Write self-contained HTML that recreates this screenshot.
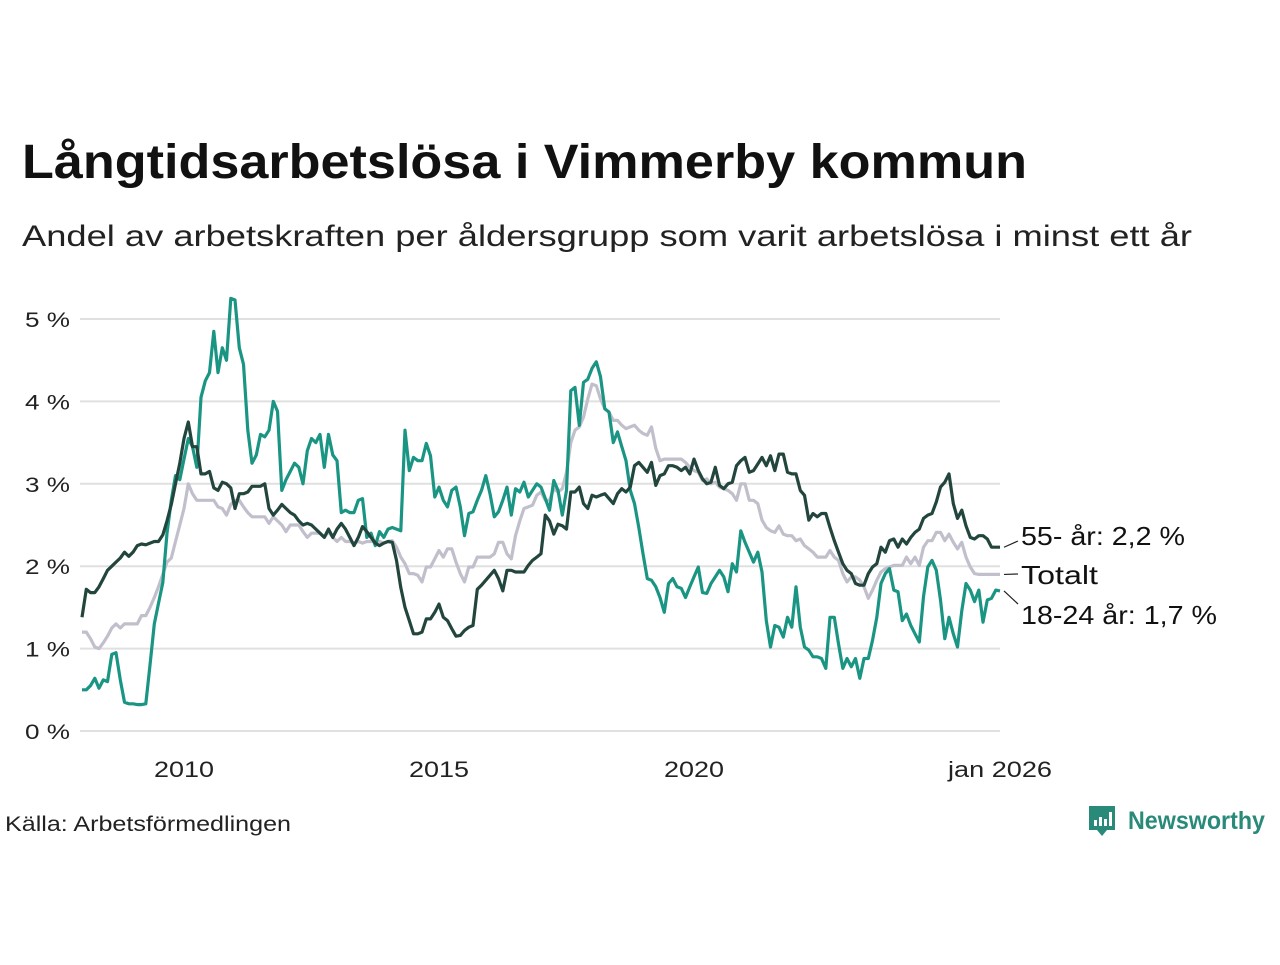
<!DOCTYPE html>
<html><head><meta charset="utf-8"><style>
body{margin:0;background:#fff;width:1280px;height:960px;overflow:hidden;font-family:"Liberation Sans",sans-serif;}
svg text{font-family:"Liberation Sans",sans-serif;}
</style></head><body>
<svg id="chart" width="1280" height="960" xmlns="http://www.w3.org/2000/svg">
<text x="22" y="178" font-size="48" font-weight="bold" fill="#111" textLength="1005" lengthAdjust="spacingAndGlyphs">Långtidsarbetslösa i Vimmerby kommun</text>
<text x="22" y="246" font-size="30" fill="#222" textLength="1170" lengthAdjust="spacingAndGlyphs">Andel av arbetskraften per åldersgrupp som varit arbetslösa i minst ett år</text>
<g id="grid"></g>
<g id="series"></g>
<g id="labels"></g>
<text x="5" y="831" font-size="21" fill="#222" textLength="286" lengthAdjust="spacingAndGlyphs">Källa: Arbetsförmedlingen</text>
<g>
<path d="M1089 806h26v24h-8l-5 6-5-6h-8z" fill="#2a8a7a"/>
<rect x="1094" y="820" width="3" height="6" fill="#fff"/><rect x="1099" y="817" width="3" height="9" fill="#fff"/><rect x="1104" y="819" width="3" height="7" fill="#fff"/><rect x="1109" y="812" width="3" height="14" fill="#fff"/>
<text x="1128" y="829" font-size="25" font-weight="bold" fill="#2a8a7a" textLength="137" lengthAdjust="spacingAndGlyphs">Newsworthy</text>
</g>
</svg>
<script>
const yTicks=[0,1,2,3,4,5];
const xTickYears=[2010,2015,2020];
const xTickLabels=["2010","2015","2020","jan 2026"];
const seriesNames=["55- år","Totalt","18-24 år"];
const young=[0.50,0.50,0.55,0.64,0.52,0.62,0.60,0.93,0.95,0.62,0.35,0.33,0.33,0.32,0.32,0.33,0.8,1.3,1.55,1.8,2.4,2.8,3.1,3.05,3.3,3.55,3.45,3.2,4.05,4.25,4.35,4.85,4.35,4.65,4.5,5.25,5.23,4.65,4.45,3.65,3.25,3.35,3.6,3.57,3.65,4.0,3.88,2.92,3.05,3.15,3.25,3.2,3.0,3.4,3.55,3.5,3.6,3.2,3.6,3.35,3.28,2.65,2.68,2.65,2.65,2.8,2.82,2.35,2.4,2.25,2.42,2.35,2.45,
2.47,2.45,2.43,3.65,3.16,3.32,3.28,3.28,3.49,3.34,2.84,2.96,2.8,2.72,2.92,2.96,2.72,2.37,2.64,2.66,2.8,2.92,3.1,2.88,2.6,2.66,2.8,2.96,2.62,2.94,2.9,3.02,2.84,2.92,3.0,2.96,2.82,2.68,3.04,2.92,2.62,2.92,4.13,4.17,3.71,4.23,4.27,4.4,4.48,4.3,3.91,3.87,3.5,3.63,3.45,3.28,2.92,2.76,2.47,2.15,1.85,1.83,1.75,1.62,1.44,1.79,1.85,1.75,1.73,1.62,1.75,1.87,1.99,
1.68,1.67,1.79,1.87,1.95,1.87,1.69,2.03,1.93,2.43,2.29,2.17,2.05,2.17,1.93,1.34,1.02,1.28,1.26,1.14,1.38,1.26,1.75,1.26,1.02,0.98,0.9,0.9,0.88,0.76,1.38,1.38,1.06,0.76,0.88,0.78,0.88,0.64,0.88,0.88,1.1,1.38,1.79,1.91,1.97,1.71,1.69,1.34,1.42,1.28,1.18,1.08,1.63,1.99,2.07,1.95,1.59,1.12,1.38,1.18,1.02,1.46,1.79,1.71,1.57,1.71,1.32,1.59,1.61,1.71,1.7];
const old=[1.38,1.72,1.68,1.68,1.75,1.85,1.95,2.0,2.05,2.1,2.17,2.12,2.17,2.25,2.27,2.26,2.28,2.3,2.3,2.38,2.55,2.75,3.0,3.25,3.55,3.75,3.45,3.45,3.12,3.12,3.15,2.95,2.92,3.02,3.0,2.95,2.7,2.88,2.88,2.9,2.97,2.97,2.97,3.0,2.7,2.62,2.68,2.75,2.7,2.65,2.62,2.55,2.5,2.52,2.5,2.45,2.4,2.35,2.45,2.35,2.45,2.52,2.45,2.35,2.25,2.35,2.48,2.42,2.35,2.28,2.25,2.28,2.3,
2.29,2.07,1.74,1.5,1.34,1.18,1.18,1.2,1.36,1.36,1.44,1.54,1.38,1.34,1.24,1.15,1.16,1.22,1.26,1.28,1.72,1.77,1.83,1.89,1.95,1.85,1.7,1.95,1.95,1.93,1.93,1.93,2.01,2.07,2.11,2.15,2.62,2.55,2.39,2.51,2.49,2.45,2.9,2.9,2.96,2.76,2.7,2.86,2.84,2.86,2.88,2.82,2.76,2.88,2.94,2.9,2.96,3.22,3.26,3.2,3.14,3.26,2.98,3.1,3.12,3.22,3.22,3.2,3.16,3.2,3.12,3.3,3.16,
3.06,3.0,3.02,3.2,2.98,2.94,3.0,3.02,3.22,3.28,3.32,3.14,3.16,3.24,3.32,3.22,3.34,3.16,3.36,3.36,3.14,3.12,3.12,2.92,2.86,2.56,2.64,2.6,2.64,2.64,2.47,2.31,2.17,2.03,1.95,1.91,1.79,1.77,1.77,1.91,1.99,2.03,2.23,2.17,2.31,2.33,2.23,2.33,2.27,2.35,2.41,2.45,2.58,2.62,2.64,2.78,2.96,3.02,3.12,2.76,2.58,2.68,2.49,2.35,2.33,2.37,2.37,2.33,2.23,2.23,2.23];
const total=[1.2,1.2,1.12,1.02,1.0,1.07,1.15,1.25,1.3,1.25,1.3,1.3,1.3,1.3,1.4,1.4,1.5,1.62,1.75,1.9,2.05,2.1,2.3,2.5,2.7,3.0,2.88,2.8,2.8,2.8,2.8,2.8,2.72,2.7,2.62,2.75,2.8,2.8,2.72,2.65,2.6,2.6,2.6,2.6,2.52,2.6,2.55,2.5,2.42,2.5,2.5,2.5,2.42,2.35,2.4,2.4,2.4,2.35,2.42,2.35,2.3,2.35,2.3,2.3,2.28,2.3,2.28,2.3,2.3,2.3,2.3,2.28,2.3,
2.31,2.23,2.11,2.03,1.91,1.91,1.89,1.81,1.99,1.99,2.09,2.19,2.11,2.21,2.21,2.05,1.91,1.81,1.99,1.99,2.11,2.11,2.11,2.11,2.15,2.29,2.29,2.15,2.09,2.37,2.55,2.7,2.72,2.74,2.86,2.9,2.8,2.8,2.94,2.9,2.94,3.14,3.5,3.65,3.69,3.81,4.03,4.21,4.19,4.03,3.91,3.87,3.77,3.77,3.71,3.67,3.69,3.71,3.65,3.61,3.59,3.69,3.43,3.28,3.3,3.3,3.3,3.3,3.3,3.26,3.2,3.16,3.14,
3.04,3.06,3.0,3.02,2.96,2.94,2.92,2.88,2.8,3.0,3.0,2.8,2.8,2.76,2.56,2.47,2.43,2.41,2.49,2.39,2.37,2.37,2.31,2.33,2.25,2.21,2.17,2.11,2.11,2.11,2.19,2.11,2.07,1.91,1.81,1.87,1.87,1.83,1.75,1.61,1.71,1.83,1.93,1.97,1.99,2.01,2.01,2.01,2.11,2.03,2.11,2.01,2.23,2.31,2.31,2.41,2.41,2.31,2.39,2.29,2.21,2.29,2.11,1.99,1.91,1.9,1.9,1.9,1.9,1.9,1.9];

const NS="http://www.w3.org/2000/svg";
const X0=82,X1=1000,N=216;
const xMonth=m=>X0+(X1-X0)*m/N;
const xYear=y=>xMonth((y-2008)*12);
const yVal=v=>731-v*82.4;
function mk(tag,attrs,parent){const e=document.createElementNS(NS,tag);for(const k in attrs)e.setAttribute(k,attrs[k]);parent.appendChild(e);return e;}
const grid=document.getElementById('grid');
yTicks.forEach(t=>{
  const l=mk('line',{x1:80,x2:1000,y1:yVal(t),y2:yVal(t),stroke:'#e0e0e0','stroke-width':2},grid);
  
  
  const tx=mk('text',{x:70,y:yVal(t)+8,'text-anchor':'end','font-size':21,fill:'#222',textLength:45,lengthAdjust:'spacingAndGlyphs'},grid);
  tx.textContent=t+' %';
  
  
});
xTickLabels.forEach((lab,i)=>{
  const x=i<xTickYears.length?xYear(xTickYears[i]):X1;
  const w=i<xTickYears.length?60:104;
  const tx=mk('text',{x:x,y:777,'text-anchor':'middle','font-size':22,fill:'#222',textLength:w,lengthAdjust:'spacingAndGlyphs'},grid);
  tx.textContent=lab;
  
  
});
const ser=document.getElementById('series');
function line(arr,color,name){
  const d=arr.map((v,i)=>(i?'L':'M')+xMonth(i).toFixed(1)+' '+yVal(v).toFixed(1)).join('');
  const p=mk('path',{d:d,fill:'none',stroke:color,'stroke-width':3.2,'stroke-linejoin':'round'},ser);
  
  
}
line(total,'#c2bfcc','line-totalt');
line(young,'#1a9583','line-18-24');
line(old,'#22463d','line-55');
const lab=document.getElementById('labels');
const lastOld=old[old.length-1],lastTot=total[total.length-1],lastYoung=young[young.length-1];
const fmt=v=>v.toFixed(1).replace('.',',');
const ends=[[yVal(lastOld),541,545,seriesNames[0]+': '+fmt(lastOld)+' %','label-55',164],[yVal(lastTot),574,584,seriesNames[1],'label-totalt',77],[yVal(lastYoung),604,624,seriesNames[2]+': '+fmt(lastYoung)+' %','label-18-24',196]];
ends.forEach(e=>{
  mk('line',{x1:1004,y1:e[0],x2:1018,y2:e[1],stroke:'#222','stroke-width':1.2},lab);
  const t=mk('text',{x:1021,y:e[2],'font-size':26,fill:'#111',textLength:e[5],lengthAdjust:'spacingAndGlyphs'},lab);
  t.textContent=e[3];
  
  
});
</script>
</body></html>
